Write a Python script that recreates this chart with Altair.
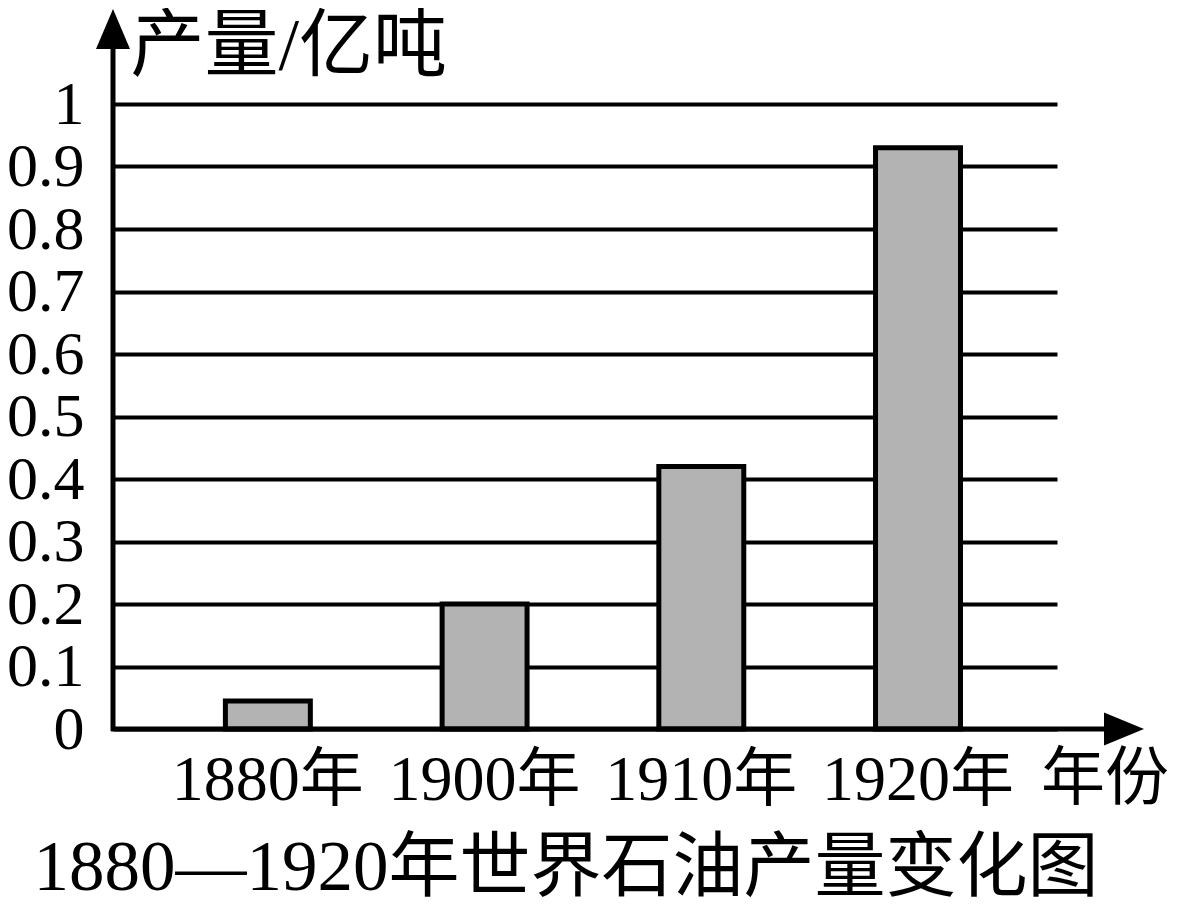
import altair as alt
import pandas as pd

# ---- data ----
years = ["1880年", "1900年", "1910年", "1920年"]
output = [0.045, 0.2, 0.42, 0.93]          # 亿吨
y_ticks = [0, 0.1, 0.2, 0.3, 0.4, 0.5, 0.6, 0.7, 0.8, 0.9, 1]
y_title = "产量/亿吨"
x_unit = "年份"
chart_title = "1880—1920年世界石油产量变化图"

FONT = "Liberation Serif, Noto Sans CJK SC"
INK = "#000000"

df = pd.DataFrame({"year": years, "value": output})
one = pd.DataFrame({"k": [0]})

W, H = 944, 625

x_enc = alt.X(
    "year:N",
    sort=years,
    scale=alt.Scale(paddingInner=0.608, paddingOuter=0.482, align=0.538),
    axis=alt.Axis(
        title=None, domain=False, ticks=False, tickSize=0, labelAngle=0,
        labelFont=FONT, labelFontSize=64, labelColor=INK, labelLimit=0,
        labelOverlap=False, labelPadding=51, labelBaseline="middle",
    ),
)
y_enc = alt.Y(
    "value:Q",
    scale=alt.Scale(domain=[0, 1], nice=False, zero=True),
    axis=alt.Axis(
        values=y_ticks, format="~g", domain=False, ticks=False, tickSize=0,
        grid=True, gridColor=INK, gridWidth=4, gridOpacity=1,
        labelFont=FONT, labelFontSize=62, labelColor=INK, labelPadding=29,
        labelAlign="right", labelBaseline="middle", labelOverlap=False,
        labelLimit=0,
        title=y_title, titleFont=FONT, titleFontSize=74, titleFontWeight="normal",
        titleColor=INK, titleAngle=0, titleAlign="left", titleBaseline="middle",
        titleX=17, titleY=-57,
    ),
)

bars = alt.Chart(df).mark_bar(
    fill="#b3b3b3", stroke=INK, strokeWidth=5
).encode(x=x_enc, y=y_enc)

y_axis_line = alt.Chart(one).mark_rule(color=INK, strokeWidth=5).encode(
    x=alt.value(0), y=alt.value(-70), y2=alt.value(H + 2)
)
x_axis_line = alt.Chart(one).mark_rule(color=INK, strokeWidth=5).encode(
    x=alt.value(-2), x2=alt.value(1000), y=alt.value(H)
)
up_arrow = alt.Chart(one).mark_point(
    shape="M0,-1L0.85,1L-0.85,1Z", filled=True, size=1600, color=INK, opacity=1
).encode(x=alt.value(0), y=alt.value(-75))
right_arrow = alt.Chart(one).mark_point(
    shape="M1,0L-1,0.83L-1,-0.83Z", filled=True, size=1600, color=INK, opacity=1
).encode(x=alt.value(1011), y=alt.value(H))

unit_label = alt.Chart(pd.DataFrame({"t": [x_unit]})).mark_text(
    font=FONT, fontSize=64, color=INK, align="center", baseline="middle"
).encode(text="t:N", x=alt.value(992), y=alt.value(676))

title_text = alt.Chart(pd.DataFrame({"t": [chart_title]})).mark_text(
    font=FONT, fontSize=71, color=INK, align="center", baseline="middle"
).encode(text="t:N", x=alt.value(453), y=alt.value(765))

chart = alt.layer(
    bars, y_axis_line, x_axis_line, up_arrow, right_arrow, unit_label, title_text
).properties(
    width=W, height=H,
    autosize=alt.AutoSizeParams(type="none"),
    padding={"left": 105, "top": 96, "right": 115, "bottom": 170},
    background="white",
).configure_view(strokeWidth=0)

chart.save("out.html", embed_options={"renderer": "svg", "actions": False})
